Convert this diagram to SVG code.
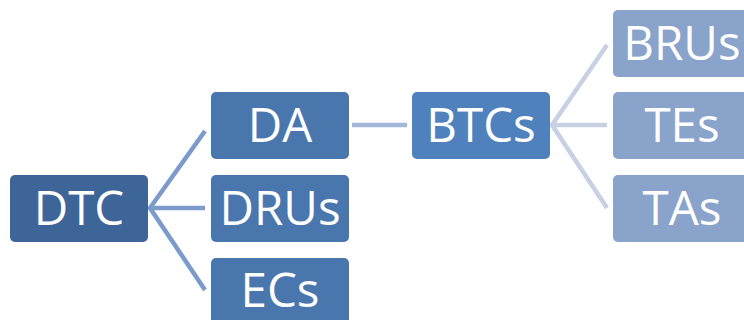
<svg xmlns="http://www.w3.org/2000/svg" width="744" height="320" viewBox="0 0 744 320">
<style>
.t{font-family:"Open Sans","Liberation Sans",sans-serif;font-size:47.5px;fill:#fff;text-anchor:middle}
.c{fill:none;stroke-width:4.5}
</style>
<rect width="744" height="320" fill="#fff"/>
<g id="connectors">
<path class="c" stroke="#7C9BCB" d="M205,131 L150,208 L205,290 M150,208 L205,208"/>
<path class="c" stroke="#A3B7DA" d="M352,125 L407,125"/>
<path class="c" stroke="#C8D1E4" d="M607,45 L552,125 L607,208 M552,125 L607,125"/>
</g>
<g id="DTC"><rect x="10" y="175" width="138" height="67" rx="5" fill="#3E6597"/><text class="t" x="79" y="225">DTC</text></g>
<g id="DA"><rect x="211" y="92" width="138" height="67" rx="5" fill="#4A76AE"/><text class="t" x="280" y="142">DA</text></g>
<g id="DRUs"><rect x="211" y="175" width="138" height="67" rx="5" fill="#4A76AE"/><text class="t" x="280" y="225">DRUs</text></g>
<g id="ECs"><rect x="211" y="258" width="138" height="67" rx="5" fill="#4A76AE"/><text class="t" x="280" y="307">ECs</text></g>
<g id="BTCs"><rect x="412" y="92" width="138" height="67" rx="5" fill="#4F81BD"/><text class="t" x="481" y="142">BTCs</text></g>
<g id="BRUs"><rect x="613" y="10" width="138" height="67" rx="5" fill="#8AA3CB"/><text class="t" x="682" y="60">BRUs</text></g>
<g id="TEs"><rect x="613" y="92" width="138" height="67" rx="5" fill="#8AA3CB"/><text class="t" x="682" y="142">TEs</text></g>
<g id="TAs"><rect x="613" y="175" width="138" height="67" rx="5" fill="#8AA3CB"/><text class="t" x="682" y="225">TAs</text></g>
</svg>
